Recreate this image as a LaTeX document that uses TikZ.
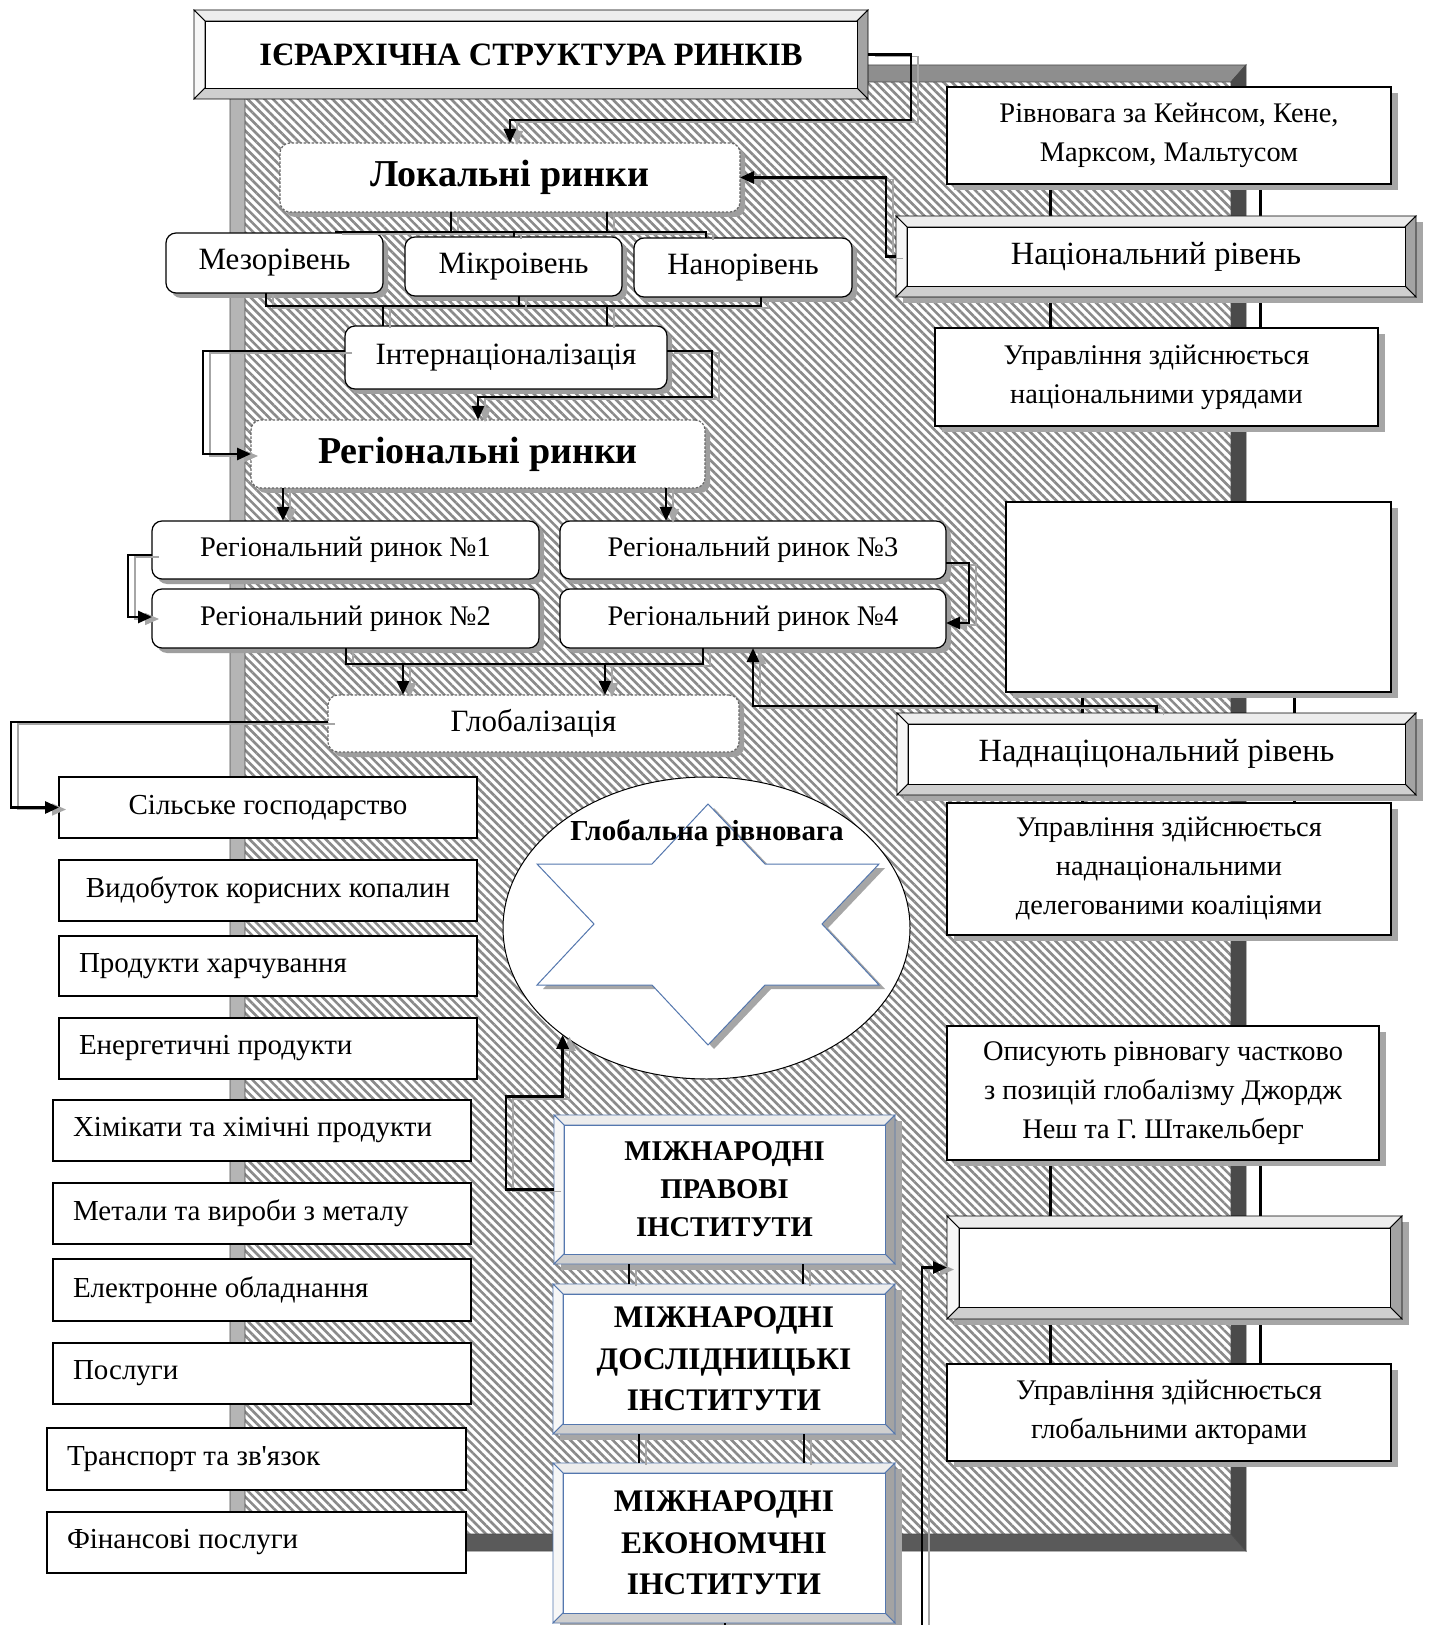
\documentclass[tikz,border=0pt]{standalone}
\usepackage{fontspec}
\setmainfont{Liberation Serif}
\usetikzlibrary{arrows.meta,fit,shapes.geometric,patterns.meta,calc}
\definecolor{bvtop}{HTML}{EDEDED}
\definecolor{bvleft}{HTML}{F7F7F7}
\definecolor{bvright}{HTML}{A3A3A3}
\definecolor{bvbot}{HTML}{CFCFCF}
\definecolor{frtop}{HTML}{8E8E8E}
\definecolor{frleft}{HTML}{B5B5B5}
\definecolor{frright}{HTML}{4A4A4A}
\definecolor{frbot}{HTML}{5A5A5A}
\definecolor{shadowc}{HTML}{A6A6A6}
\definecolor{hatchc}{HTML}{8A8A8A}
\definecolor{blueline}{HTML}{5477AE}
\newcommand\mybevel[6]{%
  \filldraw[fill=bvtop,draw=#6,line width=0.4pt] (#1,#2) -- (#3,#2) -- (#3-#5,#2+#5) -- (#1+#5,#2+#5) -- cycle;
  \filldraw[fill=bvleft,draw=#6,line width=0.4pt] (#1,#2) -- (#1+#5,#2+#5) -- (#1+#5,#4-#5) -- (#1,#4) -- cycle;
  \filldraw[fill=bvright,draw=#6,line width=0.4pt] (#3,#2) -- (#3,#4) -- (#3-#5,#4-#5) -- (#3-#5,#2+#5) -- cycle;
  \filldraw[fill=bvbot,draw=#6,line width=0.4pt] (#1,#4) -- (#3,#4) -- (#3-#5,#4-#5) -- (#1+#5,#4-#5) -- cycle;
  \filldraw[fill=white,draw=#6,line width=0.4pt] (#1+#5,#2+#5) rectangle (#3-#5,#4-#5);
}
\newcommand\myshadow[4]{\fill[shadowc] (#1+7,#2+6) rectangle (#3+7,#4+6);}
\newcommand\myshadowr[4]{\fill[black!38,rounded corners=5pt] (#1+5,#2+5) rectangle (#3+5,#4+5);}
\begin{document}
\begin{tikzpicture}[x=0.5pt,y=-0.5pt,
  every node/.style={inner sep=0pt,outer sep=0pt},
  conn/.style={line width=1.4pt,preaction={draw=black!35,line width=0.8pt,transform canvas={xshift=3.5pt,yshift=-1pt}}},
  arr/.style={conn,-{Triangle[length=7pt,width=6pt]}},
  vline/.style={line width=1.5pt},
  plainbox/.style={draw=black,line width=0.6pt,fill=white},
  rbox/.style={draw=black,line width=0.6pt,fill=white,rounded corners=5pt},
  dbox/.style={draw=black!60,dash pattern=on 1.2pt off 0.8pt,line width=0.6pt,fill=white,rounded corners=5pt},
  tlist/.style={font=\fontsize{14.5}{19}\selectfont},
  tlev/.style={font=\fontsize{15.5}{19}\selectfont},
  treg/.style={font=\fontsize{14.2}{19}\selectfont},
  tright/.style={font=\fontsize{14.2}{19.5}\selectfont,align=center},
  tlevel/.style={font=\fontsize{16.2}{19.5}\selectfont},
  tbig/.style={font=\fontsize{19}{22}\selectfont\bfseries},
  tinst/.style={font=\fontsize{14.3}{19}\selectfont\bfseries,align=center},
  tinst2/.style={font=\fontsize{15.7}{20.7}\selectfont\bfseries,align=center},
]
\useasboundingbox (0,0) rectangle (1429,1625);
\fill[white] (0,0) rectangle (1429,1625);

% ---------- hatched panel with bevelled frame ----------
\path[pattern={Lines[angle=-45,distance=3pt,line width=1.3pt]},pattern color=hatchc] (245,82) rectangle (1231,1534);
\filldraw[fill=frtop,draw=black!70,line width=0.4pt] (230,65) -- (1246,65) -- (1231,82) -- (245,82) -- cycle;
\filldraw[fill=frleft,draw=black!70,line width=0.4pt] (230,65) -- (245,82) -- (245,1534) -- (230,1551) -- cycle;
\filldraw[fill=frright,draw=black!70,line width=0.4pt] (1246,65) -- (1246,1551) -- (1231,1534) -- (1231,82) -- cycle;
\filldraw[fill=frbot,draw=black!70,line width=0.4pt] (230,1551) -- (1246,1551) -- (1231,1534) -- (245,1534) -- cycle;

% ---------- right column vertical lines ----------
\draw[vline] (1050,184) -- (1050,216) (1260,184) -- (1260,216);
\draw[vline] (1050,297) -- (1050,328) (1260,297) -- (1260,328);
\draw[vline] (1082,692) -- (1082,713) (1294,692) -- (1294,713);
\draw[vline] (1082,795) -- (1082,803) (1294,795) -- (1294,803);
\draw[vline] (1050,1160) -- (1050,1216) (1260,1160) -- (1260,1216);
\draw[vline] (1050,1319) -- (1050,1364) (1260,1319) -- (1260,1364);

% ---------- title ----------
\mybevel{194}{10}{868}{99}{11}{black}
\node[fit={(194,10)(868,99)}] (title) {};
\node[font=\fontsize{16.3}{19}\selectfont\bfseries] (title-t) at (title.center) {ІЄРАРХІЧНА СТРУКТУРА РИНКІВ};

% ---------- local markets ----------
\myshadowr{280}{143}{740}{212}
\node[dbox,fit={(280,143)(740,212)}] (loc) {};
\node[tbig] (loc-t) at (loc.center) {Локальні ринки};

\myshadowr{166}{233}{383}{293}
\node[rbox,fit={(166,233)(383,293)}] (meso) {};
\node[tlev] (meso-t) at (meso.center) {Мезорівень};
\myshadowr{405}{237}{622}{296}
\node[rbox,fit={(405,237)(622,296)}] (micro) {};
\node[tlev] (micro-t) at (micro.center) {Мікроівень};
\myshadowr{634}{238}{852}{297}
\node[rbox,fit={(634,238)(852,297)}] (nano) {};
\node[tlev] (nano-t) at (nano.center) {Нанорівень};

\myshadowr{345}{326}{667}{389}
\node[rbox,fit={(345,326)(667,389)}] (intl) {};
\node[tlev] (intl-t) at (intl.center) {Інтернаціоналізація};

\myshadowr{251}{420}{705}{488}
\node[dbox,fit={(251,420)(705,488)}] (reg) {};
\node[tbig] (reg-t) at (reg.center) {Регіональні ринки};

\myshadowr{152}{521}{539}{579}
\node[rbox,fit={(152,521)(539,579)}] (r1) {};
\node[treg] (r1-t) at (r1.center) {Регіональний ринок №1};
\myshadowr{152}{589}{539}{648}
\node[rbox,fit={(152,589)(539,648)}] (r2) {};
\node[treg] (r2-t) at (r2.center) {Регіональний ринок №2};
\myshadowr{560}{521}{946}{579}
\node[rbox,fit={(560,521)(946,579)}] (r3) {};
\node[treg] (r3-t) at (r3.center) {Регіональний ринок №3};
\myshadowr{560}{589}{946}{648}
\node[rbox,fit={(560,589)(946,648)}] (r4) {};
\node[treg] (r4-t) at (r4.center) {Регіональний ринок №4};

\myshadowr{328}{695}{739}{752}
\node[dbox,fit={(328,695)(739,752)}] (glob) {};
\node[tlev] (glob-t) at (glob.center) {Глобалізація};

% ---------- left list ----------
\node[plainbox,fit={(59,777)(477,838)}] (agri) {};
\node[tlist] (agri-t) at (agri.center) {Сільське господарство};
\node[plainbox,fit={(59,860)(477,921)}] (mining) {};
\node[tlist] (mining-t) at (mining.center) {Видобуток корисних копалин};
\node[plainbox,fit={(59,936)(477,996)}] (food) {};
\node[tlist,anchor=west] (food-t) at ($(food.west)+(20,0)$) {Продукти харчування};
\node[plainbox,fit={(59,1018)(477,1079)}] (energy) {};
\node[tlist,anchor=west] (energy-t) at ($(energy.west)+(20,0)$) {Енергетичні продукти};
\node[plainbox,fit={(53,1100)(471,1161)}] (chem) {};
\node[tlist,anchor=west] (chem-t) at ($(chem.west)+(20,0)$) {Хімікати та хімічні продукти};
\node[plainbox,fit={(53,1183)(471,1244)}] (metal) {};
\node[tlist,anchor=west] (metal-t) at ($(metal.west)+(20,0)$) {Метали та вироби з металу};
\node[plainbox,fit={(53,1259)(471,1321)}] (elec) {};
\node[tlist,anchor=west] (elec-t) at ($(elec.west)+(20,0)$) {Електронне обладнання};
\node[plainbox,fit={(53,1343)(471,1404)}] (serv) {};
\node[tlist,anchor=west] (serv-t) at ($(serv.west)+(20,0)$) {Послуги};
\node[plainbox,fit={(47,1428)(466,1490)}] (trans) {};
\node[tlist,anchor=west] (trans-t) at ($(trans.west)+(20,0)$) {Транспорт та зв\textquotesingle язок};
\node[plainbox,fit={(47,1512)(466,1573)}] (fin) {};
\node[tlist,anchor=west] (fin-t) at ($(fin.west)+(20,0)$) {Фінансові послуги};

% ---------- right column ----------
\myshadow{947}{87}{1391}{184}
\node[plainbox,fit={(947,87)(1391,184)}] (keyn) {};
\node[tright] (keyn-t) at (keyn.center) {Рівновага за Кейнсом, Кене,\\Марксом, Мальтусом};
\myshadow{896}{216}{1416}{297}
\mybevel{896}{216}{1416}{297}{11}{black}
\node[fit={(896,216)(1416,297)}] (nat) {};
\node[tlevel] (nat-t) at (nat.center) {Національний рівень};
\myshadow{935}{328}{1378}{426}
\node[plainbox,fit={(935,328)(1378,426)}] (govn) {};
\node[tright] (govn-t) at (govn.center) {Управління здійснюється\\національними урядами};

\myshadow{1006}{502}{1391}{692}
\node[plainbox,fit={(1006,502)(1391,692)}] (empty1) {};
\myshadow{897}{713}{1416}{795}
\mybevel{897}{713}{1416}{795}{11}{black}
\node[fit={(897,713)(1416,795)}] (supra) {};
\node[tlevel] (supra-t) at (supra.center) {Наднаціцональний рівень};
\myshadow{947}{803}{1391}{935}
\node[plainbox,fit={(947,803)(1391,935)}] (govs) {};
\node[tright] (govs-t) at (govs.center) {Управління здійснюється\\наднаціональними\\делегованими коаліціями};

\myshadow{947}{1026}{1379}{1160}
\node[plainbox,fit={(947,1026)(1379,1160)}] (nash) {};
\node[tright] (nash-t) at (nash.center) {Описують рівновагу частково\\з позицій глобалізму Джордж\\Неш та Г. Штакельберг};
\myshadow{947}{1216}{1402}{1319}
\mybevel{947}{1216}{1402}{1319}{12}{black}
\node[fit={(947,1216)(1402,1319)}] (glob2) {};
\myshadow{947}{1364}{1391}{1461}
\node[plainbox,fit={(947,1364)(1391,1461)}] (gova) {};
\node[tright] (gova-t) at (gova.center) {Управління здійснюється\\глобальними акторами};

% ---------- global equilibrium ----------
\node[ellipse,draw=black,line width=0.5pt,fill=white,minimum width=203.5pt,minimum height=151pt] (eq) at (706.5,928) {};
\begin{scope}[shift={(6,4)}]
\fill[shadowc] (708,804) -- (765,864) -- (879,864) -- (822,924) -- (879,985) -- (765,985) -- (708,1045) -- (652,985) -- (537,985) -- (594,924) -- (537,864) -- (652,864) -- cycle;
\end{scope}
\filldraw[fill=white,draw=blueline,line width=0.5pt] (708,804) -- (765,864) -- (879,864) -- (822,924) -- (879,985) -- (765,985) -- (708,1045) -- (652,985) -- (537,985) -- (594,924) -- (537,864) -- (652,864) -- cycle;
\node[font=\fontsize{14.5}{18}\selectfont\bfseries] (eqt) at (707,833) {Глобальна рівновага};

% ---------- institutions ----------
\myshadow{554}{1115}{895}{1264}
\mybevel{554}{1115}{895}{1264}{10}{blueline}
\node[fit={(554,1115)(895,1264)}] (prav) {};
\node[tinst] (prav-t) at (prav.center) {МІЖНАРОДНІ\\ПРАВОВІ\\ІНСТИТУТИ};
\myshadow{553}{1284}{895}{1434}
\mybevel{553}{1284}{895}{1434}{10}{blueline}
\node[fit={(553,1284)(895,1434)}] (dosl) {};
\node[tinst2] (dosl-t) at (dosl.center) {МІЖНАРОДНІ\\ДОСЛІДНИЦЬКІ\\ІНСТИТУТИ};
\myshadow{553}{1463}{895}{1623}
\mybevel{553}{1463}{895}{1623}{10}{blueline}
\node[fit={(553,1463)(895,1623)}] (econ) {};
\node[tinst2] (econ-t) at (econ.center) {МІЖНАРОДНІ\\ЕКОНОМЧНІ\\ІНСТИТУТИ};

% ---------- connectors ----------
\draw[arr] (title.east) -| ++(43,65.5) -| (loc.north);
\draw[arr] (nat.west) -- ++(-10,0) |- (loc.east);

\draw[conn] (451,212) -- (451,232) (607,212) -- (607,232);
\draw[conn] (meso.north -| 336,0) -- (336,232) -- (706,232) -- (nano.north -| 706,0);
\draw[conn] (514,232) -- (micro.north -| 514,0);
\draw[conn] (meso.south -| 266,0) -- (266,306) -- (761,306) -- (nano.south -| 761,0);
\draw[conn] (micro.south -| 519,0) -- (519,306);
\draw[conn] (383,306) -- (intl.north -| 383,0) (607,306) -- (intl.north -| 607,0);

\draw[arr] ($(intl.west)+(0,-6.5)$) -- ++(-142,0) |- (reg.west);
\draw[arr] ($(intl.east)+(0,-6.5)$) -| ++(45,46) -| (reg.north);

\coordinate (a1) at (283,488);
\coordinate (a3) at (666,488);
\draw[arr] (a1) -- (a1 |- r1.north);
\draw[arr] (a3) -- (a3 |- r3.north);

\draw[arr] ($(r1.west)+(0,5)$) -- ++(-24,0) |- ($(r2.west)+(0,-1.5)$);
\draw[arr] ($(r3.east)+(0,13)$) -- ++(23,0) |- ($(r4.east)+(0,4.5)$);

\draw[conn] (r2.south -| 346,0) -- (346,664) -- (703,664) -- (r4.south -| 703,0);
\coordinate (g1) at (403,664);
\coordinate (g2) at (605,664);
\draw[arr] (g1) -- (g1 |- glob.north);
\draw[arr] (g2) -- (g2 |- glob.north);

\draw[arr] (supra.north) -- ++(0,-7) -| (r4.south);
\draw[arr] ($(glob.west)+(0,-1.5)$) -- ++(-317,0) |- (agri.west);

\draw[arr] (prav.west) -- ++(-48,0) |- ($(eq.south west)+(0,62)$) -- (eq.south west);

\draw[conn] (629,1264) -- (629,1284) (803,1264) -- (803,1284);
\draw[conn] (639,1434) -- (639,1463) (804,1434) -- (804,1463);
\draw[conn] (725,1623) -- (725,1625);

\coordinate (lowstart) at (922,1625);
\draw[arr] (lowstart) |- (glob2.west);
\end{tikzpicture}
\end{document}
